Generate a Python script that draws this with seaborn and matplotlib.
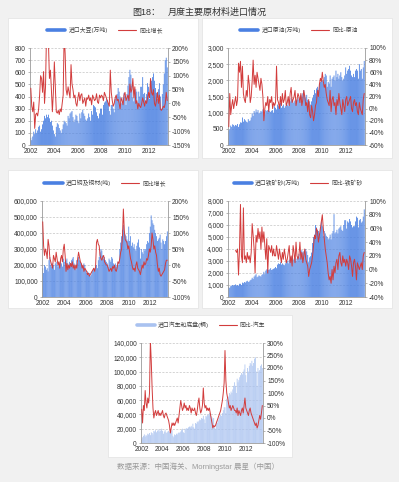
import numpy as np
import pandas as pd
import matplotlib
matplotlib.use('Agg')
import matplotlib.pyplot as plt
import seaborn as sns
from matplotlib.lines import Line2D
from matplotlib.patches import Rectangle
from matplotlib.ticker import FuncFormatter

nan = float('nan')

# ---------------- data (monthly, Jan 2002 - Aug 2013) ----------------
year_labels = ['2002', '2004', '2006', '2008', '2010', '2012']

soy_imports = [
    60, 40, 70, 110, 90, 130, 100, 120, 150, 160, 110, 130,
    170, 200, 240, 220, 250, 230, 250, 220, 190, 200, 160, 120,
    90, 70, 150, 180, 170, 140, 120, 100, 130, 170, 200, 190,
    180, 160, 240, 220, 260, 270, 280, 230, 190, 210, 250, 240,
    200, 180, 260, 220, 270, 290, 260, 240, 210, 200, 220, 260,
    230, 200, 280, 250, 330, 320, 310, 270, 240, 220, 260, 300,
    300, 250, 330, 350, 360, 380, 370, 340, 280, 250, 330, 330,
    300, 270, 380, 400, 420, 470, 440, 400, 350, 340, 390, 430,
    400, 330, 420, 490, 560, 620, 580, 490, 390, 360, 430, 460,
    440, 350, 440, 400, 480, 480, 560, 420, 430, 360, 420, 510,
    480, 380, 490, 530, 560, 590, 530, 470, 430, 380, 460, 510,
    400, 300, 420, 500, 590, 700, 720, 640]
soy_yoy = [
    55, -10, -30, 5, -90, -40, -35, -45, -20, 30, 100, 90,
    40, 115, 0, 60, 250, 250, 220, 90, 120, 50, -30, 40,
    150, 60, -30, -35, -25, -40, -20, -30, 0, 30, 250, 180,
    50, 30, 60, 40, 20, 140, 70, 50, 20, 30, 0, -10,
    20, 40, 10, 30, 35, 0, 10, 20, -10, 20, 15, 30,
    10, 20, -5, 30, 20, 10, 15, 35, 5, 0, 30, 20,
    30, 25, 10, 40, 30, 20, 10, 0, -10, 120, 40, 10,
    -10, 0, 20, 30, 10, 15, 0, -20, 20, 10, -5, 30,
    40, 10, 20, 30, 10, 70, 40, 50, 90, 20, 60, 0,
    10, -20, 0, -10, -15, 0, 20, 5, -10, 10, 0, 20,
    40, 20, 90, 40, 30, 50, 0, -10, 10, 40, 0, 30,
    -20, -25, -20, -10, -15, 0, 40, 10]

oil_imports = [
    450, 480, 600, 560, 640, 620, 580, 620, 600, 650, 560, 640,
    700, 690, 850, 720, 800, 760, 720, 700, 800, 740, 760, 850,
    980, 900, 1050, 1000, 1100, 1020, 1080, 980, 1000, 1050, 1030, 1100,
    1000, 950, 1080, 1050, 1080, 1100, 1050, 1020, 1060, 1080, 1000, 1200,
    1150, 1100, 1250, 1200, 1250, 1300, 1150, 1200, 1250, 1150, 1200, 1300,
    1250, 1200, 1400, 1350, 1450, 1400, 1300, 1350, 1380, 1300, 1400, 1450,
    1400, 1350, 1550, 1500, 1600, 1700, 1550, 1450, 1550, 1400, 1300, 1350,
    1250, 1350, 1450, 1550, 1700, 1600, 1750, 1800, 1700, 1900, 1950, 2000,
    2000, 1900, 2100, 2200, 2150, 1800, 1950, 1900, 2150, 1800, 2050, 2100,
    2150, 2000, 2300, 2100, 2200, 2050, 2150, 2250, 2100, 2000, 2050, 2150,
    2400, 2200, 2300, 2350, 2450, 2300, 2150, 2100, 2200, 2100, 2300, 2350,
    2300, 2050, 2500, 2300, 2350, 2050, 2400, 2600]
oil_yoy = [
    -30, 25, -10, 5, 15, 0, 10, 20, 5, 15, 75, 60,
    78, 35, 70, 25, 15, 10, 30, 20, 55, 40, 10, 20,
    45, 80, 40, 55, 35, 60, 50, 40, 30, 50, 40, 20,
    -20, 0, 10, 5, 20, -5, 15, 10, 20, 0, 10, 5,
    10, 70, 15, 10, 0, 20, 5, 25, 10, 15, 30, 5,
    10, 20, 5, 25, 35, 10, 15, 20, 30, 5, 15, 25,
    20, 10, 25, 5, 15, 30, 20, 5, 10, -5, 15, -10,
    -15, 5, -5, -20, -10, 5, 10, 30, 20, 40, 50, 45,
    60, 45, 35, 40, 25, 15, 10, 5, 30, -5, 15, 20,
    5, 10, -10, 15, 5, 25, 10, 0, -10, 15, 5, -5,
    15, 20, 5, 10, 15, 20, 0, -5, 10, 15, 5, 10,
    -5, -10, 10, 0, -5, -10, 15, 25]

copper_imports = [
    180000, 150000, 200000, 190000, 170000, 180000, 160000, 230000, 250000, 200000, 190000, 210000,
    200000, 170000, 210000, 220000, 200000, 190000, 210000, 200000, 230000, 210000, 190000, 240000,
    220000, 200000, 230000, 240000, 210000, 200000, 220000, 210000, 230000, 240000, 250000, 210000,
    190000, 170000, 230000, 210000, 250000, 230000, 220000, 210000, 200000, 190000, 210000, 200000,
    170000, 150000, 160000, 140000, 150000, 130000, 140000, 160000, 170000, 180000, 160000, 190000,
    200000, 180000, 230000, 250000, 280000, 300000, 290000, 260000, 240000, 250000, 230000, 220000,
    210000, 190000, 240000, 230000, 220000, 250000, 240000, 210000, 200000, 210000, 190000, 200000,
    220000, 200000, 300000, 340000, 380000, 420000, 450000, 400000, 390000, 380000, 360000, 350000,
    440000, 350000, 380000, 320000, 340000, 310000, 330000, 300000, 290000, 320000, 340000, 360000,
    310000, 240000, 300000, 280000, 270000, 300000, 290000, 300000, 330000, 350000, 340000, 400000,
    440000, 510000, 480000, 460000, 450000, 420000, 400000, 380000, 350000, 360000, 370000, 390000,
    340000, 300000, 360000, 350000, 330000, 350000, 380000, 410000]
copper_yoy = [
    135, 60, 30, 50, 40, 20, 80, 60, 20, 10, 0, -10,
    30, 20, 10, 40, 20, 0, 10, -10, 20, 30, 10, 50,
    65, 30, -20, 5, -15, 0, -10, 5, -5, 10, -10, 0,
    -15, 0, -10, 20, 40, 25, 10, 5, -10, 0, -20, -10,
    -15, -20, -30, -25, -35, -30, -25, -20, -15, -10, -20, -5,
    70, 80, 65, 60, 30, 20, 15, 25, 30, 10, 5, 0,
    0, -10, -20, -15, -10, -20, -5, -10, 0, -15, -20, -10,
    10, 5, 20, 40, 50, 90, 175, 110, 80, 75, 70, 50,
    60, 40, 20, 10, -5, -15, -10, -20, 0, 10, -10, -15,
    -20, -30, -15, 0, -10, 10, 0, 5, 20, 15, 30, 50,
    40, 60, 100, 80, 50, 60, 40, 30, 0, -20, -10, -30,
    -35, -30, -25, -20, -15, 5, 15, 15]

ore_imports = [
    850, 750, 900, 950, 1000, 950, 1000, 1050, 950, 1000, 950, 1100,
    1100, 1000, 1200, 1150, 1250, 1200, 1300, 1350, 1250, 1300, 1400, 1450,
    1600, 1500, 1700, 1800, 1900, 1650, 1700, 1800, 1750, 1700, 1850, 1900,
    2100, 1900, 2200, 2300, 2350, 2250, 2300, 2400, 2250, 2300, 2350, 2400,
    2500, 2400, 2700, 2800, 2750, 2900, 2700, 2800, 2700, 2650, 2800, 2900,
    3000, 2800, 3100, 3200, 3300, 3400, 3100, 3200, 3300, 3000, 3200, 3400,
    3600, 3300, 3800, 3900, 3700, 3800, 3600, 4000, 3800, 3500, 2900, 3300,
    3400, 3700, 4500, 5000, 5200, 6000, 5800, 5600, 5500, 5300, 5800, 6300,
    5900, 5100, 5500, 5300, 5100, 5000, 4800, 4900, 5200, 4800, 5300, 5500,
    6900, 5300, 5400, 5600, 5300, 5700, 5800, 5900, 5600, 5500, 6000, 6400,
    6400, 5700, 6300, 6200, 6500, 6300, 6000, 5800, 5900, 5900, 6300, 6700,
    6600, 5800, 6400, 6500, 6200, 6300, 6700, 7300]
ore_yoy = [
    nan, nan, nan, nan, nan, nan, nan, 28, 25, 30, -8, 30,
    95, 20, 10, 90, 15, 20, 10, 25, 15, 20, 10, 25,
    67, 50, 30, -5, 50, 40, 60, 45, 55, 30, 62, 40,
    55, 35, 15, 45, -5, 35, 30, 25, 35, 20, 30, 20,
    20, 35, 25, 15, 30, 20, 10, 25, 15, 30, 20, 10,
    15, 25, 35, 10, 20, 5, 35, 25, 10, 40, 20, 15,
    20, 40, 15, 25, 10, 20, 30, 15, 10, 5, -10, 0,
    5, 10, 20, 35, 50, 45, 60, 55, 40, 50, 60, 70,
    80, 60, 45, 30, 20, 10, -5, -15, -10, -20, 0, -15,
    5, -5, 10, 15, 0, 20, 25, 10, 5, 20, 10, 15,
    5, 15, 10, 0, 20, 15, 5, -10, 10, 15, 5, -15,
    10, 5, 0, 5, 10, 0, 20, 25]

car_imports = [
    5000, 8000, 10000, 12000, 9000, 11000, 10000, 13000, 12000, 14000, 11000, 15000,
    14000, 12000, 17000, 16000, 18000, 15000, 17000, 19000, 16000, 18000, 17000, 20000,
    17000, 13000, 16000, 18000, 15000, 14000, 16000, 17000, 15000, 16000, 17000, 18000,
    10000, 8000, 12000, 11000, 13000, 12000, 14000, 15000, 14000, 16000, 18000, 20000,
    15000, 14000, 20000, 19000, 21000, 20000, 22000, 23000, 22000, 24000, 22000, 27000,
    22000, 20000, 28000, 27000, 30000, 29000, 31000, 33000, 32000, 35000, 34000, 38000,
    33000, 28000, 38000, 37000, 40000, 39000, 42000, 41000, 38000, 36000, 34000, 35000,
    22000, 20000, 30000, 28000, 32000, 35000, 37000, 40000, 38000, 42000, 46000, 50000,
    50000, 42000, 62000, 60000, 65000, 70000, 68000, 72000, 70000, 75000, 80000, 85000,
    80000, 70000, 90000, 85000, 88000, 92000, 95000, 98000, 96000, 100000, 103000, 110000,
    95000, 85000, 105000, 100000, 108000, 112000, 110000, 115000, 108000, 112000, 118000, 120000,
    100000, 80000, 105000, 100000, 102000, 108000, 110000, 105000]
car_yoy = [
    35, -20, 50, 30, 110, 60, 40, 80, 60, 100, 310, 230,
    120, 40, 0, 20, 30, 10, 20, 30, 10, 20, 10, 20,
    30, 10, 0, 15, 20, 10, 0, -10, -30, -60, -40, -20,
    -30, -20, -30, -20, -10, 0, -20, 10, 40, 70, 50, 30,
    40, 60, 40, 50, 30, 40, 30, 50, 40, 20, 40, 30,
    30, 40, 20, 10, 30, 60, 80, 40, 20, 30, 50, 120,
    60, 40, 50, 30, 40, 30, 40, 20, 0, -20, -40, -30,
    -35, -30, -20, -10, 0, 10, 20, 30, 50, 70, 100, 140,
    270, 150, 100, 80, 60, 40, 50, 30, 40, 50, 40, 30,
    30, 20, 40, 10, 30, 20, 10, 30, 40, 20, 50, 80,
    40, 30, 20, 10, 30, 40, 20, 10, 0, -10, -20, -30,
    -20, -40, -30, -10, 10, -5, 20, 50]

# ---------------- style ----------------
sns.set_theme(style='white')
plt.rcParams['font.family'] = ['Liberation Sans', 'Noto Sans CJK SC']
plt.rcParams['axes.unicode_minus'] = False

W, H = 399, 482
fig = plt.figure(figsize=(W / 100, H / 100), dpi=100)
fig.patch.set_facecolor('#f1f1f1')

BLUE = '#4a80e2'
LIGHT_BLUE = '#a9c2f0'
RED = '#d23c3c'
SPINE = '#9a9a9a'


def box(x0, y0, x1, y1):
    fig.add_artist(Rectangle((x0 / W, 1 - y1 / H), (x1 - x0) / W, (y1 - y0) / H,
                             transform=fig.transFigure, facecolor='white',
                             edgecolor='#e2e2e2', lw=0.5, zorder=-5))


def panel(ax_px, bars, yoy, lims, step, rlims, rstep, bar_label, line_label,
          leg_xy, bar_color=BLUE):
    l, t, r, b = ax_px
    ax = fig.add_axes([l / W, 1 - b / H, (r - l) / W, (b - t) / H])
    ax.set_facecolor('none')
    n = len(bars)
    df = pd.DataFrame({'m': np.arange(n), 'v': bars, 'y': yoy})
    sns.barplot(data=df, x='m', y='v', native_scale=True, color=bar_color,
                saturation=1, width=0.85, linewidth=0, errorbar=None, ax=ax)
    for p in ax.patches:
        p.set_snap(False)
        p.set_antialiased(True)
    ax.set_xlim(-0.8, n - 0.2)
    ax.set_ylim(*lims)
    ax.set_yticks(np.arange(lims[0], lims[1] + step / 2, step))
    ax.yaxis.set_major_formatter(FuncFormatter(lambda v, p: f'{v:,.0f}'))
    ax.set_xticks(np.arange(0, n, 24))
    ax.set_xticklabels(year_labels)
    ax.set_xlabel('')
    ax.set_ylabel('')
    ax.set_axisbelow(True)
    ax.yaxis.grid(True, linestyle=(0, (3, 2)), color='#c4c4c4', linewidth=0.5)
    ax.xaxis.grid(False)
    for s in ['top', 'right']:
        ax.spines[s].set_visible(False)
    for s in ['left', 'bottom']:
        ax.spines[s].set_color(SPINE)
        ax.spines[s].set_linewidth(0.6)
    ax.tick_params(axis='both', labelsize=4.8, length=1.5, width=0.5,
                   color=SPINE, pad=1.5, labelcolor='#333333')
    ax.tick_params(axis='x', length=0, pad=2.5)

    ax2 = ax.twinx()
    sns.lineplot(data=df, x='m', y='y', color=RED, linewidth=0.7, ax=ax2)
    ax2.set_ylim(*rlims)
    ax2.set_yticks(np.arange(rlims[0], rlims[1] + rstep / 2, rstep))
    ax2.yaxis.set_major_formatter(FuncFormatter(lambda v, p: f'{v:.0f}%'))
    ax2.set_ylabel('')
    ax2.set_xlabel('')
    ax2.set_xlim(ax.get_xlim())
    for s in ['top', 'left', 'bottom']:
        ax2.spines[s].set_visible(False)
    ax2.spines['right'].set_color(SPINE)
    ax2.spines['right'].set_linewidth(0.6)
    ax2.tick_params(axis='y', labelsize=4.8, length=1.5, width=0.5,
                    color=SPINE, pad=1.5, labelcolor='#333333')
    ax2.grid(False)

    handles = [Line2D([0], [0], color=bar_color, lw=2.6),
               Line2D([0], [0], color=RED, lw=0.8)]
    fig.legend(handles, [bar_label, line_label], loc='center',
               bbox_to_anchor=(leg_xy[0] / W, 1 - leg_xy[1] / H), ncol=2,
               frameon=False, fontsize=4.2, handlelength=3.1,
               handletextpad=0.5, columnspacing=1.8, borderpad=0,
               labelcolor='#444444')


# panel backgrounds
box(8, 18, 198, 158)
box(202, 18, 392, 158)
box(8, 170, 198, 308)
box(202, 170, 392, 308)
box(108, 315, 292, 457)

panel((30, 48, 168, 145), soy_imports, soy_yoy, (0, 800), 100, (-150, 200), 50,
      '进口大豆(万吨)', '同比增长', (105, 30))
panel((228, 48, 365, 145), oil_imports, oil_yoy, (0, 3000), 500, (-60, 100), 20,
      '进口原油(万吨)', '同比-原油', (299, 30))
panel((42, 201, 168, 297), copper_imports, copper_yoy, (0, 600000), 100000, (-100, 200), 50,
      '进口铜及铜材(吨)', '同比增长', (105, 183))
panel((228, 201, 365, 297), ore_imports, ore_yoy, (0, 8000), 1000, (-40, 100), 20,
      '进口铁矿砂(万吨)', '同比-铁矿砂', (298, 183))
panel((141, 343, 263, 443), car_imports, car_yoy, (0, 140000), 20000, (-100, 300), 50,
      '进口汽车和底盘(辆)', '同比-汽车', (201, 325), bar_color=LIGHT_BLUE)

fig.text(132 / W, 1 - 12 / H, '图18：', fontsize=6.5, color='#333333',
         ha='left', va='center')
fig.text(168 / W, 1 - 12 / H, '月度主要原材料进口情况', fontsize=6.5,
         color='#333333', ha='left', va='center')
fig.text(198 / W, 1 - 467 / H, '数据来源：中国海关、Morningstar 晨星（中国）',
         fontsize=5.4, color='#9a9a9a', ha='center', va='center')

fig.savefig('out.png', dpi=100, facecolor=fig.get_facecolor())
